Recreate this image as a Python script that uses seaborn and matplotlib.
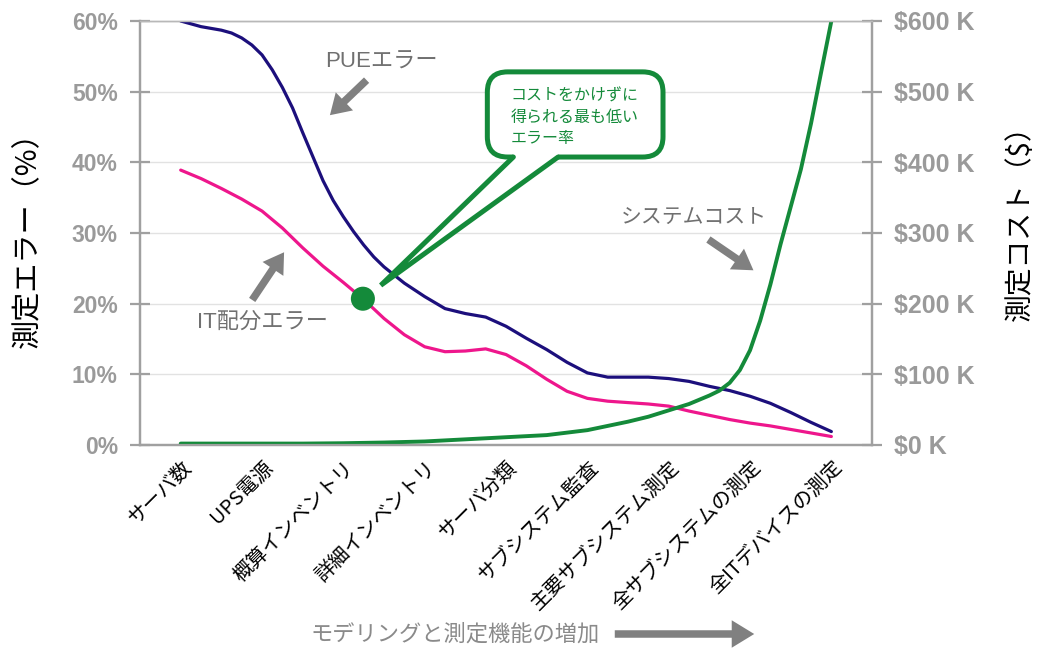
import numpy as np
import pandas as pd
import seaborn as sns
import matplotlib.pyplot as plt
from matplotlib.patches import FancyBboxPatch, Polygon
from matplotlib.lines import Line2D
from matplotlib.transforms import ScaledTranslation

# データ
stages = ["サーバ数", "UPS電源", "概算インベントリ", "詳細インベントリ", "サーバ分類",
          "サブシステム監査", "主要サブシステム測定", "全サブシステムの測定", "全ITデバイスの測定"]

# 段階軸上の位置 (0 = サーバ数, 8 = 全ITデバイスの測定)
pue_pos = [0, 0.25, 0.5, 0.625, 0.75, 0.875, 1.0, 1.125, 1.25, 1.375, 1.5, 1.625, 1.75, 1.875,
           2.0, 2.125, 2.25, 2.375, 2.5, 2.75, 3.0, 3.25, 3.5, 3.75, 4.0, 4.25, 4.5,
           4.75, 5.0, 5.25, 5.5, 5.75, 6.0, 6.25, 6.5, 6.75, 7.0, 7.25, 7.5, 7.75, 8.0]
pue_err = [60.0, 59.2, 58.7, 58.3, 57.6, 56.6, 55.2, 53.1, 50.6, 47.7, 44.2, 40.8, 37.4, 34.6,
           32.3, 30.2, 28.3, 26.6, 25.2, 22.9, 21.0, 19.3, 18.6, 18.1, 16.8, 15.1, 13.5,
           11.7, 10.2, 9.6, 9.6, 9.6, 9.4, 9.0, 8.3, 7.7, 6.9, 5.9, 4.6, 3.2, 1.9]

it_pos = [0, 0.25, 0.5, 0.75, 1.0, 1.25, 1.5, 1.75, 2.0, 2.25, 2.5, 2.75, 3.0,
          3.25, 3.5, 3.75, 4.0, 4.25, 4.5, 4.75, 5.0, 5.25, 5.5, 5.75, 6.0,
          6.25, 6.5, 6.75, 7.0, 7.25, 7.5, 7.75, 8.0]
it_err = [38.9, 37.7, 36.3, 34.8, 33.1, 30.7, 27.9, 25.3, 23.0, 20.6, 17.9, 15.6, 13.9,
          13.2, 13.3, 13.6, 12.8, 11.2, 9.3, 7.6, 6.6, 6.2, 6.0, 5.8, 5.5,
          4.8, 4.2, 3.6, 3.1, 2.7, 2.2, 1.7, 1.2]

cost_pos = [0, 0.5, 1.0, 1.5, 2.0, 2.5, 3.0, 3.5, 4.0, 4.5, 5.0, 5.25, 5.5, 5.75, 6.0,
            6.25, 6.5, 6.625, 6.75, 6.875, 7.0, 7.125, 7.25, 7.375, 7.5, 7.625, 7.75,
            7.875, 8.0]
cost_k = [2, 2, 2, 2, 2.5, 3.5, 5, 8, 11, 14, 21, 27, 33, 40, 49,
          58, 70, 77, 88, 106, 134, 176, 227, 284, 337, 390, 455,
          528, 600]

best_pos = [2.24]
best_err = [20.7]

err_ticks = [0, 10, 20, 30, 40, 50, 60]
cost_ticks = [0, 100, 200, 300, 400, 500, 600]

navy = "#1c0f7c"
pink = "#ee168c"
green = "#148a3a"
gray = "#9a9a9a"
arrow_gray = "#808080"

sns.set_theme(style="white")
plt.rcParams['font.family'] = ['Noto Sans CJK JP', 'DejaVu Sans']

df_pue = pd.DataFrame({"pos": pue_pos, "err": pue_err})
df_it = pd.DataFrame({"pos": it_pos, "err": it_err})
df_cost = pd.DataFrame({"pos": cost_pos, "cost": cost_k})
df_best = pd.DataFrame({"pos": best_pos, "err": best_err})

fig = plt.figure(figsize=(10.49, 6.5), dpi=100)
ax = fig.add_axes([0.1335, 0.3154, 0.6978, 0.6523])
ax2 = ax.twinx()

sns.lineplot(data=df_pue, x="pos", y="err", ax=ax, color=navy, lw=2.3, zorder=3)
sns.lineplot(data=df_it, x="pos", y="err", ax=ax, color=pink, lw=2.3, zorder=3)
sns.scatterplot(data=df_best, x="pos", y="err", ax=ax, color=green, s=300,
                edgecolor="none", zorder=6)
sns.lineplot(data=df_cost, x="pos", y="cost", ax=ax2, color=green, lw=2.8)

# 軸
ax.set_xlim(-0.5, len(stages) - 0.5)
ax.set_ylim(0, 60)
ax2.set_ylim(0, 600)
ax.set_yticks(err_ticks)
ax.set_yticklabels([f"{v}%" for v in err_ticks])
ax2.set_yticks(cost_ticks)
ax2.set_yticklabels([f"${v} K" for v in cost_ticks])

ax.set_xticks(np.arange(len(stages) + 1) - 0.5)
ax.set_xticklabels([])
ax.set_xticks(np.arange(len(stages)), minor=True)
ax.set_xticklabels(stages, minor=True, rotation=45, ha="right", va="center",
                   rotation_mode="anchor", fontsize=14.5, color="black")
ax.tick_params(axis="x", which="minor", length=0, pad=14)
offset = ScaledTranslation(8 / 100, 0, fig.dpi_scale_trans)
for lab in ax.get_xticklabels(minor=True):
    lab.set_transform(lab.get_transform() + offset)

ax.grid(axis="y", color="#e2e2e2", lw=1)
ax.set_axisbelow(True)
for a in (ax, ax2):
    for s in ("left", "right", "bottom"):
        a.spines[s].set_color("#a0a0a0")
        a.spines[s].set_linewidth(1.6)
    a.spines["top"].set_color("#b8b8b8")
    a.spines["top"].set_linewidth(1.0)
ax.tick_params(axis="x", which="major", direction="inout", length=11, width=1.6,
               color="#a0a0a0")
ax.tick_params(axis="y", direction="inout", length=14, width=1.6, color="#a0a0a0", pad=9)
ax2.tick_params(axis="y", direction="inout", length=14, width=1.6, color="#a0a0a0", pad=9)
for lab in ax.get_yticklabels():
    lab.set_fontfamily("Liberation Sans")
    lab.set_fontweight("bold")
    lab.set_fontsize(16.5)
    lab.set_color(gray)
for lab in ax2.get_yticklabels():
    lab.set_fontfamily("Liberation Sans")
    lab.set_fontweight("bold")
    lab.set_fontsize(18)
    lab.set_color(gray)

ax.set_xlabel("")
ax.set_ylabel("測定エラー（%）", fontsize=21, color="black")
ax.yaxis.set_label_coords(-0.133, 0.5)
ax2.set_ylabel("測定コスト（$）", fontsize=20, color="black")
ax2.yaxis.set_label_coords(1.182, 0.54)

# 吹き出し
box = FancyBboxPatch((3.77, 40.75), 2.16, 12.05,
                     boxstyle="round,pad=0,rounding_size=0.25", mutation_aspect=11.5,
                     transform=ax.transData, fc="white", ec=green, lw=3.6, zorder=7,
                     clip_on=False)
ax.add_patch(box)
wedge = Polygon([(2.46, 22.6), (4.09, 40.75), (4.09, 41.8), (4.64, 41.8), (4.64, 40.75)],
                closed=True, fc="white", ec="none", zorder=8, transform=ax.transData)
ax.add_patch(wedge)
ax.add_line(Line2D([4.09, 2.46, 4.64], [40.75, 22.6, 40.75], color=green, lw=3.6,
                   solid_joinstyle="bevel", zorder=9))
ax.text(4.06, 46.4, "コストをかけずに\n得られる最も低い\nエラー率", color=green,
        fontsize=11.5, ha="left", va="center", linespacing=1.3, zorder=10)

# 注記
arrow_kw = dict(arrowstyle="simple,head_length=0.8,head_width=1.0,tail_width=0.3",
                mutation_scale=18, fc=arrow_gray, ec="none")
ax.annotate("", xy=(1.81, 46.4), xytext=(2.31, 51.9), arrowprops=arrow_kw, zorder=5)
ax.annotate("", xy=(1.29, 27.6), xytext=(0.86, 20.2), arrowprops=arrow_kw, zorder=5)
ax.annotate("", xy=(7.07, 24.5), xytext=(6.46, 29.3), arrowprops=arrow_kw, zorder=5)
note_font = ["Liberation Sans", "Noto Sans CJK JP"]
ax.text(2.47, 54.2, "PUEエラー", color="#707070", fontsize=16, ha="center", va="center",
        family=note_font)
ax.text(1.0, 17.4, "IT配分エラー", color="#707070", fontsize=16, ha="center", va="center",
        family=note_font)
ax.text(6.31, 32.3, "システムコスト", color="#707070", fontsize=15, ha="center", va="center")

fig.text(310 / 1049, 1 - 634 / 650, "モデリングと測定機能の増加", color="#8a8a8a",
         fontsize=16, ha="left", va="center")
ax.annotate("", xy=(757 / 1049, 1 - 634 / 650), xytext=(612 / 1049, 1 - 634 / 650),
            xycoords="figure fraction", textcoords="figure fraction",
            arrowprops=dict(arrowstyle="simple,head_length=0.9,head_width=1.1,tail_width=0.3",
                            mutation_scale=18, fc=arrow_gray, ec="none"))

fig.savefig("out.png", dpi=100)
